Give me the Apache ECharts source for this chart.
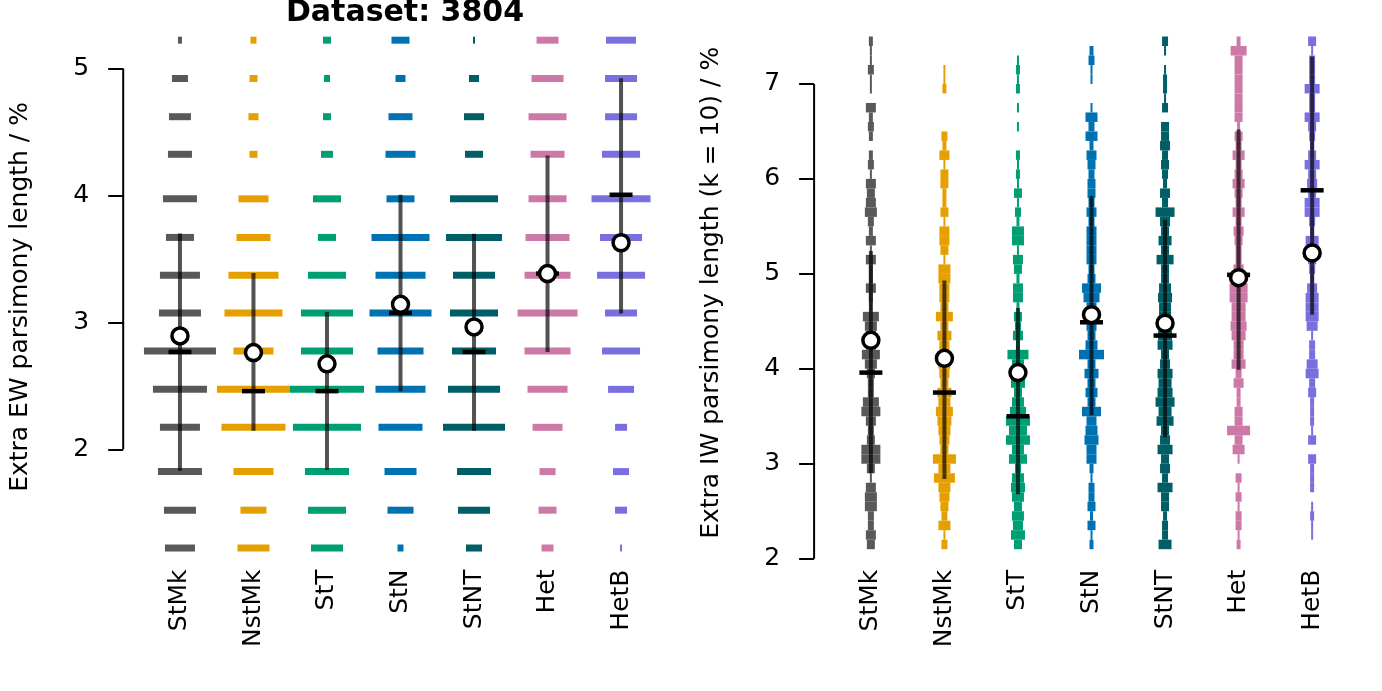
<!DOCTYPE html>
<html><head><meta charset="utf-8">
<script src="https://cdn.jsdelivr.net/npm/echarts@6/dist/echarts.min.js"></script>
<style>html,body{margin:0;padding:0;background:#fff}#c{width:1382px;height:691px}</style>
</head><body><div id="c"></div>
<script>
// ---------- data ----------
const categories = ['StMk','NstMk','StT','StN','StNT','Het','HetB'];
const titleText = 'Dataset: 3804';
const ewTicks = [2,3,4,5];
const iwTicks = [2,3,4,5,6,7];

// EW panel: discrete score levels and frequency at each level (bottom -> top)
const ewLevels = [1.222,1.520,1.824,2.173,2.472,2.775,3.074,3.370,3.669,3.973,4.324,4.620,4.921,5.223];
const ewStMk  = [30,32,44,40,54,72,42,40,28,34,24,22,16,4];
const ewNstMk = [32,26,40,64,73,40,58,50,34,30,8,10,8,6];
const ewStT   = [32,38,44,68,74,52,52,38,18,28,12,8,6,8];
const ewStN   = [6,26,32,44,50,46,62,50,58,28,30,24,10,18];
const ewStNT  = [16,32,34,62,52,44,48,42,56,48,18,20,10,2];
const ewHet   = [12,18,16,30,40,46,60,46,44,38,34,38,32,22];
const ewHetB  = [2,12,16,12,26,38,32,48,42,59,38,32,32,30];
const ewMean   = [2.893,2.762,2.673,3.142,2.964,3.384,3.627];
const ewMedian = [2.767,2.458,2.458,3.074,2.767,3.384,4.005];
const ewLow    = [1.830,2.146,1.837,2.458,2.146,2.767,3.069];
const ewHigh   = [3.700,3.388,3.082,4.005,3.698,4.314,4.924];

// IW panel: histogram bins (lower edge, width 0.1) and frequency (bottom -> top)
const iwBinWidth = 0.1;
const iwBins = [2.1,2.2,2.3,2.4,2.5,2.6,2.7,2.8,2.9,3.0,
                3.1,3.2,3.3,3.4,3.5,3.6,3.7,3.8,3.9,4.0,
                4.1,4.2,4.3,4.4,4.5,4.6,4.7,4.8,4.9,5.0,
                5.1,5.2,5.3,5.4,5.5,5.6,5.7,5.8,5.9,6.0,
                6.1,6.2,6.3,6.4,6.5,6.6,6.7,6.8,6.9,7.0,
                7.1,7.2,7.3,7.4];
const iwStMk  = [8,10,6,6,12,12,10,2,8,19, 19,8,6,10,19,16,6,6,8,12, 18,10,10,12,16,3,4,10,4,4, 10,2,10,4,6,12,10,8,10,2, 6,4,0,4,6,4,10,0,2,2, 6,2,2,4];
const iwNstMk = [6,2,12,6,8,10,12,21,12,23, 8,10,12,14,17,12,14,8,10,12, 10,10,14,8,17,8,10,10,12,12, 2,8,10,10,2,8,4,4,8,8, 2,10,4,6,0,0,0,0,4,2, 2,0,0,0];
const iwStT   = [8,14,10,12,8,12,14,12,6,18, 12,24,18,24,16,12,8,14,8,12, 21,4,10,6,8,3,10,10,3,8, 10,2,12,12,3,6,2,8,2,4, 2,4,0,0,2,0,2,0,4,2, 4,2,0,0];
const iwStN   = [4,2,8,3,8,6,6,2,4,10, 10,14,12,10,19,8,12,8,14,8, 25,12,8,10,10,10,16,19,8,6, 10,10,10,10,6,10,6,8,8,6, 8,10,4,12,6,12,2,0,0,2, 2,6,4,0];
const iwStNT  = [13,6,6,4,8,8,15,6,10,8, 15,10,8,17,13,19,15,13,15,10, 8,15,14,10,12,12,14,12,8,8, 17,8,13,8,10,19,6,10,4,6, 8,6,10,8,8,0,6,2,4,4, 2,0,2,6];
const iwHet   = [4,2,6,6,2,6,2,6,0,2, 12,8,23,8,8,4,4,10,6,14, 10,10,14,16,14,14,18,18,10,10, 6,6,8,10,6,12,6,8,12,8, 6,12,6,8,3,8,8,8,8,8, 8,8,16,4];
const iwHetB  = [0,2,2,4,2,0,4,4,4,8, 0,8,2,4,4,4,8,6,13,11, 6,6,2,11,13,13,13,10,4,6, 8,8,13,4,6,15,15,8,10,8, 15,8,4,6,8,15,6,6,15,6, 6,6,2,8];
const iwMean   = [4.30,4.11,3.96,4.57,4.48,4.96,5.22];
const iwMedian = [3.96,3.75,3.50,4.49,4.35,4.99,5.88];
const iwLow    = [2.90,2.84,2.68,3.51,3.28,3.99,4.57];
const iwHigh   = [5.24,4.93,4.64,5.82,5.57,6.52,7.29];

// ---------- styles ----------
const palette = ['#595959','#E69F00','#009E73','#0072B2','#005E66','#CC79A7','#7A6FDE'];
const FONT = 'DejaVu Sans';
const FREQ_REF = 73.5;      // frequency that fills one category band
const DASH_H = 7;
const AXIS_OFFSET = 20;

const ewFreq = [ewStMk, ewNstMk, ewStT, ewStN, ewStNT, ewHet, ewHetB];
const iwFreq = [iwStMk, iwNstMk, iwStT, iwStN, iwStNT, iwHet, iwHetB];

const ewDashData = [];
ewFreq.forEach((arr, c) => arr.forEach((w, j) => { if (w > 0) ewDashData.push([c, ewLevels[j], w]); }));
const iwBinData = [];
iwFreq.forEach((arr, c) => arr.forEach((w, j) => { if (w > 0) iwBinData.push([c, iwBins[j], w]); }));

function bandWidth(api, w) { return w * api.size([1, 0])[0] / FREQ_REF; }

function dashSeries(g, data) {
  return {
    type: 'custom', xAxisIndex: g, yAxisIndex: g, clip: false, z: 2,
    encode: { x: 0, y: 1 }, data: data,
    renderItem: function (params, api) {
      const c = api.value(0), y = api.value(1), w = api.value(2);
      const p = api.coord([c, y]);
      const wp = bandWidth(api, w);
      return { type: 'rect', shape: { x: p[0] - wp / 2, y: p[1] - DASH_H / 2, width: wp, height: DASH_H },
               style: { fill: palette[c] } };
    }
  };
}
function binSeries(g, data) {
  return {
    type: 'custom', xAxisIndex: g, yAxisIndex: g, clip: false, z: 2,
    encode: { x: 0, y: 1 }, data: data,
    renderItem: function (params, api) {
      const c = api.value(0), lo = api.value(1), w = api.value(2);
      const p0 = api.coord([c, lo]), p1 = api.coord([c, lo + iwBinWidth]);
      const wp = bandWidth(api, w);
      return { type: 'rect', shape: { x: p0[0] - wp / 2, y: p1[1], width: wp, height: p0[1] - p1[1] },
               style: { fill: palette[c] } };
    }
  };
}
function errSeries(g, lo, hi) {
  return {
    type: 'custom', xAxisIndex: g, yAxisIndex: g, clip: false, z: 3,
    encode: { x: 0, y: [1, 2] }, data: categories.map((_, c) => [c, lo[c], hi[c]]),
    renderItem: function (params, api) {
      const a = api.coord([api.value(0), api.value(1)]), b = api.coord([api.value(0), api.value(2)]);
      return { type: 'line', shape: { x1: a[0], y1: a[1], x2: b[0], y2: b[1] },
               style: { stroke: 'rgba(0,0,0,0.68)', lineWidth: 4 } };
    }
  };
}
function medSeries(g, med) {
  return {
    type: 'custom', xAxisIndex: g, yAxisIndex: g, clip: false, z: 4,
    encode: { x: 0, y: 1 }, data: categories.map((_, c) => [c, med[c]]),
    renderItem: function (params, api) {
      const p = api.coord([api.value(0), api.value(1)]);
      return { type: 'line', shape: { x1: p[0] - 11.5, y1: p[1], x2: p[0] + 11.5, y2: p[1] },
               style: { stroke: '#000', lineWidth: 4.5 } };
    }
  };
}
function meanSeries(g, mean) {
  return {
    type: 'scatter', xAxisIndex: g, yAxisIndex: g, z: 5,
    data: categories.map((_, c) => [c, mean[c]]),
    symbol: 'circle', symbolSize: 16,
    itemStyle: { color: '#fff', borderColor: '#000', borderWidth: 3.5, opacity: 1 }
  };
}
function axisLineSeries(g, lo, hi) {
  return {
    type: 'custom', xAxisIndex: g, yAxisIndex: g, clip: false, z: 1, silent: true,
    encode: { y: [1, 2] }, data: [[0, lo, hi]],
    renderItem: function (params, api) {
      const a = api.coord([0, api.value(1)]), b = api.coord([0, api.value(2)]);
      const x = params.coordSys.x - AXIS_OFFSET;
      return { type: 'line', shape: { x1: x, y1: a[1], x2: x, y2: b[1] },
               style: { stroke: '#000', lineWidth: 2 } };
    }
  };
}
function xAx(g, margin) {
  return { gridIndex: g, type: 'category', data: categories,
    axisLine: { show: false }, axisTick: { show: false }, splitLine: { show: false },
    axisLabel: { rotate: 90, fontSize: 25, color: '#000', fontFamily: FONT, margin: margin } };
}
function yAx(g, min, max, ticks, name, gap) {
  return { gridIndex: g, type: 'value', min: min, max: max, offset: AXIS_OFFSET,
    splitLine: { show: false }, axisLine: { show: false },
    axisTick: { show: true, length: 15, customValues: ticks, lineStyle: { color: '#000', width: 2 } },
    axisLabel: { customValues: ticks, fontSize: 25, color: '#000', fontFamily: FONT, margin: 34 },
    name: name, nameLocation: 'middle', nameGap: gap,
    nameTextStyle: { fontSize: 25, color: '#000', fontFamily: FONT } };
}

const option = {
  backgroundColor: '#fff',
  animation: false,
  title: { text: titleText, left: 400, top: -7, textAlign: 'center',
           textStyle: { fontSize: 30, fontWeight: 'bold', color: '#000', fontFamily: FONT } },
  grid: [
    { left: 143.2, width: 514.6, top: 30.4, height: 533.1 },
    { left: 834.1, width: 514.8, top: 27.0, height: 531.7 }
  ],
  xAxis: [xAx(0, 6), xAx(1, 11)],
  yAxis: [
    yAx(0, 1.1, 5.3, ewTicks, 'Extra EW parsimony length / %', 90),
    yAx(1, 2.0, 7.6, iwTicks, 'Extra IW parsimony length (k = 10) / %', 90)
  ],
  series: [
    axisLineSeries(0, 2, 5), axisLineSeries(1, 2, 7),
    dashSeries(0, ewDashData), binSeries(1, iwBinData),
    errSeries(0, ewLow, ewHigh), errSeries(1, iwLow, iwHigh),
    medSeries(0, ewMedian), medSeries(1, iwMedian),
    meanSeries(0, ewMean), meanSeries(1, iwMean)
  ]
};
const chart = echarts.init(document.getElementById('c'));
chart.setOption(option);
</script></body></html>
